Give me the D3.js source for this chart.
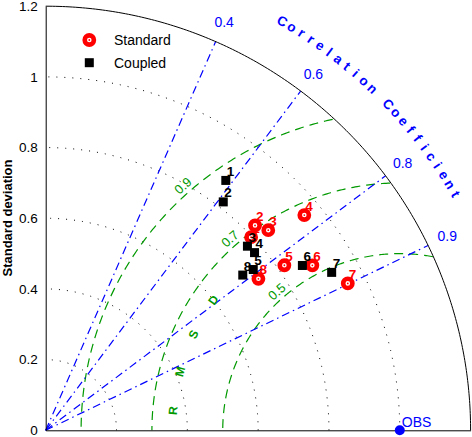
<!DOCTYPE html>
<html lang="en">
<head>
<meta charset="UTF-8">
<title>Taylor diagram</title>
<script src="https://d3js.org/d3.v7.min.js"></script>
<style>
  body { margin: 0; background: #fff; }
  svg { display: block; font-family: "Liberation Sans", Arial, Helvetica, sans-serif; }
</style>
</head>
<body>
<svg></svg>
<script>
// model numbers and (std, corr)
const modelLabels = ['1', '2', '3', '4', '5', '6', '7', '8'];
const standardStd  = [0.797, 0.828, 0.846, 0.951, 0.820, 0.886, 0.949, 0.738];
const standardCorr = [0.728, 0.714, 0.743, 0.768, 0.822, 0.850, 0.899, 0.814];
const coupledStd   = [0.871, 0.818, 0.772, 0.775, 0.742, 0.862, 0.923, 0.709];
const coupledCorr  = [0.584, 0.613, 0.738, 0.761, 0.790, 0.841, 0.875, 0.785];

const obsStd = 1.0;
const stdTicks = [0, 0.2, 0.4, 0.6, 0.8, 1.0, 1.2];
const stdGrid = [0.2, 0.4, 0.6, 0.8, 1.0];
const corrTicks = [0.4, 0.6, 0.8, 0.9];
const rmsTicks = [0.5, 0.7, 0.9];
const rmsTitle = ['R', 'M', 'S', 'D'];
const corrTitle = 'Correlation Coefficient';

const width = 472, height = 437;
const rMax = 1.2;
const blue = '#0000ff', green = '#009900', red = '#ff0000';

const x = d3.scaleLinear().domain([0, rMax]).range([45.7, 470.6]);
const y = d3.scaleLinear().domain([0, rMax]).range([430.3, 6.2]);

const svg = d3.select('svg').attr('width', width).attr('height', height);

const rad = deg => deg * Math.PI / 180;
const toXY = (s, c) => [s * c, s * Math.sqrt(1 - c * c)];
const line = d3.line().x(d => x(d[0])).y(d => y(d[1]));
const arcPts = (cx, r, a0, a1, n) => d3.range(n + 1).map(i => {
    const a = a0 + (a1 - a0) * i / n;
    return [cx + r * Math.cos(a), r * Math.sin(a)];
});

// std deviation dotted arcs
svg.append('g').selectAll('path')
    .data(stdGrid)
    .join('path')
    .attr('d', s => line(arcPts(0, s, 0, Math.PI / 2, 200)))
    .attr('fill', 'none')
    .attr('stroke', '#000')
    .attr('stroke-width', 1)
    .attr('stroke-dasharray', '1 7');

// rms circles round OBS, clipped to the quarter disc
svg.append('g').selectAll('path')
    .data(rmsTicks)
    .join('path')
    .attr('d', r => line(arcPts(obsStd, r, 0, Math.PI, 400)
        .filter(p => Math.hypot(p[0], p[1]) <= rMax && p[0] >= 0)))
    .attr('fill', 'none')
    .attr('stroke', green)
    .attr('stroke-width', 1.2)
    .attr('stroke-dasharray', '9 6');

// correlation rays
svg.append('g').selectAll('path')
    .data(corrTicks)
    .join('path')
    .attr('d', c => line([[0, 0], toXY(rMax, c)]))
    .attr('fill', 'none')
    .attr('stroke', blue)
    .attr('stroke-width', 1.2)
    .attr('stroke-dasharray', '8 4 1.5 4');

// outer arc
svg.append('path')
    .attr('d', line(arcPts(0, rMax, 0, Math.PI / 2, 200)))
    .attr('fill', 'none')
    .attr('stroke', '#000')
    .attr('stroke-width', 1);

// axes
const yAxis = svg.append('g')
    .attr('transform', `translate(${x(0)},0)`)
    .call(d3.axisLeft(y).tickValues(stdTicks).tickSize(0).tickPadding(8)
        .tickFormat(d3.format('~g')));
yAxis.attr('font-size', 13.5).attr('font-family', null);
yAxis.select('.domain').attr('stroke', '#000');
yAxis.selectAll('text').attr('fill', '#000');

svg.append('g')
    .attr('transform', `translate(0,${y(0)})`)
    .call(d3.axisBottom(x).tickValues([]).tickSizeOuter(0))
    .select('.domain').attr('stroke', '#000');

svg.append('text')
    .attr('transform', `translate(12,218) rotate(-90)`)
    .attr('text-anchor', 'middle')
    .attr('font-size', 13)
    .attr('font-weight', 'bold')
    .text('Standard deviation');

// correlation tick labels
svg.append('g').selectAll('text')
    .data(corrTicks)
    .join('text')
    .attr('x', c => x(toXY(1.26, c)[0]))
    .attr('y', c => y(toXY(1.26, c)[1]))
    .attr('dy', '0.35em')
    .attr('text-anchor', 'middle')
    .attr('font-size', 14)
    .attr('fill', blue)
    .text(d => d);

// correlation title along the arc
const titleChars = corrTitle.split('');
svg.append('g').selectAll('text')
    .data(titleChars)
    .join('text')
    .attr('transform', (ch, i) => {
        const a = 60 - i * 30 / (titleChars.length - 1);
        const px = x(1.337 * Math.cos(rad(a)));
        const py = y(1.337 * Math.sin(rad(a)));
        return `translate(${px},${py}) rotate(${90 - a})`;
    })
    .attr('dy', '0.35em')
    .attr('text-anchor', 'middle')
    .attr('font-size', 13.5)
    .attr('font-weight', 'bold')
    .attr('fill', blue)
    .text(d => d);

// rms labels
svg.append('g').selectAll('text')
    .data(rmsTicks)
    .join('text')
    .attr('transform', r => {
        const a = 131.5;
        const px = x(obsStd + (r + 0.024) * Math.cos(rad(a)));
        const py = y((r + 0.024) * Math.sin(rad(a)));
        return `translate(${px},${py}) rotate(${90 - a})`;
    })
    .attr('dy', '0.35em')
    .attr('text-anchor', 'middle')
    .attr('font-size', 13)
    .attr('fill', green)
    .text(d => d);

svg.append('g').selectAll('text')
    .data(rmsTitle)
    .join('text')
    .attr('transform', (ch, i) => {
        const a = 175 - i * 10;
        const px = x(obsStd + 0.643 * Math.cos(rad(a)));
        const py = y(0.643 * Math.sin(rad(a)));
        return `translate(${px},${py}) rotate(${90 - a})`;
    })
    .attr('dy', '0.35em')
    .attr('text-anchor', 'middle')
    .attr('font-size', 12)
    .attr('font-weight', 'bold')
    .attr('fill', green)
    .text(d => d);

// OBS
svg.append('circle')
    .attr('cx', x(obsStd)).attr('cy', y(0)).attr('r', 5)
    .attr('fill', blue);
svg.append('text')
    .attr('x', x(obsStd) + 2).attr('y', y(0) - 3)
    .attr('font-size', 14)
    .attr('fill', blue)
    .text('OBS');

// markers
function drawCircle(g, cx, cy) {
    g.append('circle').attr('cx', cx).attr('cy', cy).attr('r', 4.6)
        .attr('fill', '#fff').attr('stroke', red).attr('stroke-width', 4.6);
    g.append('circle').attr('cx', cx).attr('cy', cy).attr('r', 0.9).attr('fill', red);
}
function drawSquare(g, cx, cy) {
    g.append('rect').attr('x', cx - 4.5).attr('y', cy - 4.5)
        .attr('width', 9).attr('height', 9).attr('fill', '#000');
}

function drawSeries(stds, corrs, marker, color) {
    const g = svg.append('g');
    modelLabels.forEach((lab, i) => {
        const p = toXY(stds[i], corrs[i]);
        const cx = x(p[0]), cy = y(p[1]);
        marker(g, cx, cy);
        g.append('text')
            .attr('x', cx + 1).attr('y', cy - 4.5)
            .attr('font-size', 13.5)
            .attr('font-weight', 'bold')
            .attr('fill', color)
            .text(lab);
    });
}

drawSeries(standardStd, standardCorr, drawCircle, red);
drawSeries(coupledStd, coupledCorr, drawSquare, '#000');

// legend
const legend = svg.append('g');
drawCircle(legend, 89.3, 40);
drawSquare(legend, 89.3, 62.7);
legend.append('text').attr('x', 114).attr('y', 45).attr('font-size', 14).text('Standard');
legend.append('text').attr('x', 114).attr('y', 67.7).attr('font-size', 14).text('Coupled');
</script>
</body>
</html>
